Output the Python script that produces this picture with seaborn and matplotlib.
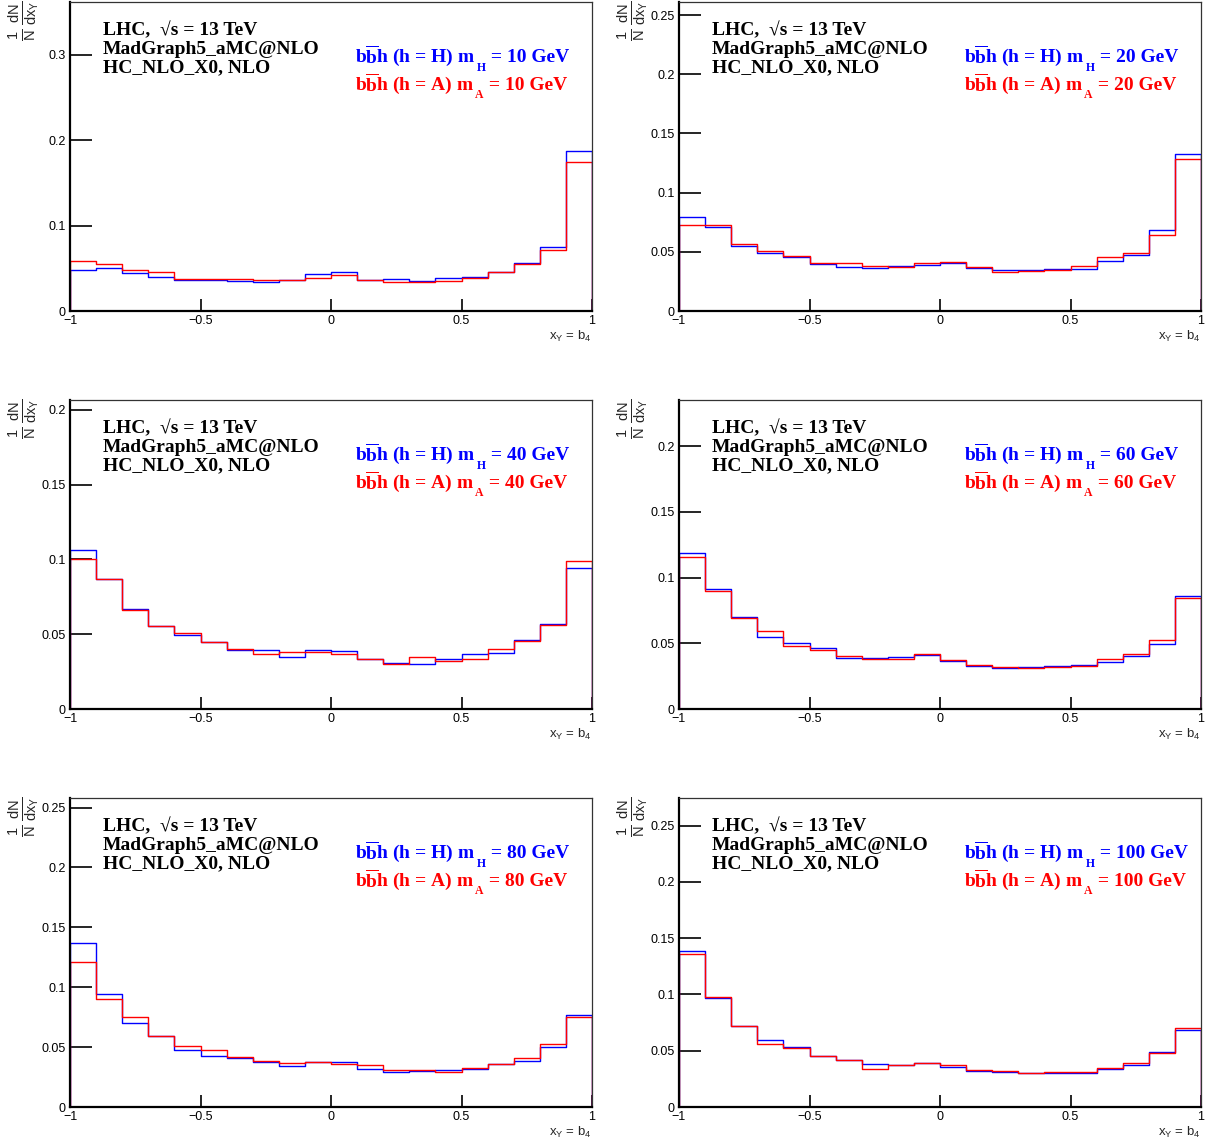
import numpy as np
import pandas as pd
import matplotlib
matplotlib.use("Agg")
import matplotlib.pyplot as plt
import matplotlib.transforms as mtransforms
import seaborn as sns
from matplotlib.ticker import FuncFormatter, MultipleLocator

# ---------------- data ----------------
bin_edges = [round(-1.0 + 0.1 * k, 3) for k in range(21)]
bin_centers = [round(-0.95 + 0.1 * k, 3) for k in range(20)]

masses = [10, 20, 40, 60, 80, 100]

H_m10 = [0.0484, 0.0500, 0.0445, 0.0400, 0.0367, 0.0360, 0.0348, 0.0340, 0.0360, 0.0430,
         0.0457, 0.0360, 0.0370, 0.0350, 0.0390, 0.0400, 0.0460, 0.0566, 0.0750, 0.1875]
A_m10 = [0.0586, 0.0555, 0.0477, 0.0457, 0.0379, 0.0371, 0.0371, 0.0363, 0.0367, 0.0390,
         0.0426, 0.0367, 0.0344, 0.0340, 0.0355, 0.0387, 0.0457, 0.0555, 0.0719, 0.1746]

H_m20 = [0.0793, 0.0709, 0.0551, 0.0490, 0.0459, 0.0400, 0.0371, 0.0366, 0.0377, 0.0391,
         0.0405, 0.0363, 0.0349, 0.0346, 0.0355, 0.0355, 0.0419, 0.0476, 0.0681, 0.1322]
A_m20 = [0.0723, 0.0723, 0.0566, 0.0506, 0.0464, 0.0402, 0.0402, 0.0383, 0.0369, 0.0408,
         0.0411, 0.0371, 0.0326, 0.0338, 0.0343, 0.0377, 0.0453, 0.0490, 0.0642, 0.1280]

H_m40 = [0.1060, 0.0866, 0.0670, 0.0552, 0.0497, 0.0450, 0.0392, 0.0392, 0.0345, 0.0392,
         0.0388, 0.0334, 0.0307, 0.0301, 0.0336, 0.0365, 0.0374, 0.0459, 0.0570, 0.0942]
A_m40 = [0.1000, 0.0866, 0.0659, 0.0552, 0.0508, 0.0450, 0.0403, 0.0365, 0.0379, 0.0379,
         0.0370, 0.0334, 0.0301, 0.0347, 0.0321, 0.0336, 0.0399, 0.0457, 0.0563, 0.0989]

H_m60 = [0.1190, 0.0912, 0.0702, 0.0545, 0.0502, 0.0464, 0.0390, 0.0388, 0.0395, 0.0411,
         0.0367, 0.0324, 0.0309, 0.0319, 0.0324, 0.0334, 0.0360, 0.0403, 0.0497, 0.0859]
A_m60 = [0.1156, 0.0900, 0.0694, 0.0590, 0.0482, 0.0449, 0.0400, 0.0378, 0.0383, 0.0418,
         0.0370, 0.0334, 0.0322, 0.0312, 0.0317, 0.0329, 0.0383, 0.0416, 0.0527, 0.0844]

H_m80 = [0.1370, 0.0946, 0.0698, 0.0594, 0.0480, 0.0430, 0.0407, 0.0379, 0.0346, 0.0374,
         0.0377, 0.0321, 0.0296, 0.0304, 0.0307, 0.0321, 0.0360, 0.0388, 0.0497, 0.0770]
A_m80 = [0.1210, 0.0904, 0.0753, 0.0592, 0.0511, 0.0477, 0.0419, 0.0382, 0.0368, 0.0377,
         0.0360, 0.0349, 0.0312, 0.0310, 0.0290, 0.0324, 0.0357, 0.0407, 0.0527, 0.0748]

H_m100 = [0.1387, 0.0968, 0.0724, 0.0597, 0.0534, 0.0451, 0.0416, 0.0386, 0.0371, 0.0392,
          0.0353, 0.0321, 0.0312, 0.0303, 0.0303, 0.0306, 0.0335, 0.0371, 0.0490, 0.0680]
A_m100 = [0.1357, 0.0980, 0.0716, 0.0561, 0.0520, 0.0454, 0.0416, 0.0341, 0.0377, 0.0395,
          0.0377, 0.0333, 0.0324, 0.0303, 0.0312, 0.0315, 0.0344, 0.0392, 0.0478, 0.0698]

H_series = [H_m10, H_m20, H_m40, H_m60, H_m80, H_m100]
A_series = [A_m10, A_m20, A_m40, A_m60, A_m80, A_m100]

y_max = [0.362, 0.261, 0.2065, 0.235, 0.258, 0.2746]
y_step = [0.1, 0.05, 0.05, 0.05, 0.05, 0.05]
x_ticks = [-1, -0.5, 0, 0.5, 1]

# ---------------- style ----------------
sns.set_style("ticks")
plt.rcParams["font.family"] = ["Liberation Sans", "DejaVu Sans"]
plt.rcParams["mathtext.fontset"] = "custom"
plt.rcParams["mathtext.rm"] = "Liberation Sans"
plt.rcParams["mathtext.it"] = "Liberation Sans"
plt.rcParams["mathtext.bf"] = "Liberation Serif:bold"
plt.rcParams["mathtext.default"] = "rm"

W, H = 1214, 1142
fig = plt.figure(figsize=(W / 100, H / 100), dpi=100)
renderer = fig.canvas.get_renderer()
ident = mtransforms.IdentityTransform()

col_left = [70, 679]
row_top = [2, 400, 798]
ax_w, ax_h = 522, 309

serif = ["Liberation Serif", "DejaVu Serif"]
blue, red = "#0000ff", "#ff0000"


def fmt(v, pos):
    s = "%g" % v
    return s.replace("-", "\u2212")


def legend_line(ax, x_px, base_px, head, sub, tail, color):
    """Draw 'head' + lowered subscript 'sub' + 'tail' starting at display px."""
    t1 = ax.text(x_px, base_px, head, transform=ident, ha="left", va="baseline",
                 fontsize=14, fontweight="bold", family=serif, color=color)
    bb = t1.get_window_extent(renderer)
    t2 = ax.text(bb.x1 + 1.5, base_px - 9, sub, transform=ident, ha="left",
                 va="baseline", fontsize=8.5, fontweight="bold", family=serif,
                 color=color)
    bb2 = t2.get_window_extent(renderer)
    ax.text(bb2.x1, base_px, tail, transform=ident, ha="left", va="baseline",
            fontsize=14, fontweight="bold", family=serif, color=color)


for i, m in enumerate(masses):
    r, c = divmod(i, 2)
    left = col_left[c] / W
    bottom = 1 - (row_top[r] + ax_h) / H
    ax = fig.add_axes([left, bottom, ax_w / W, ax_h / H])

    dfH = pd.DataFrame({"x": bin_centers, "w": H_series[i]})
    dfA = pd.DataFrame({"x": bin_centers, "w": A_series[i]})
    sns.histplot(data=dfH, x="x", weights="w", bins=bin_edges,
                 element="step", fill=False, color=blue, linewidth=1.0, ax=ax)
    sns.histplot(data=dfA, x="x", weights="w", bins=bin_edges,
                 element="step", fill=False, color=red, linewidth=1.0, ax=ax)
    # closing edges of the histogram outlines (down to zero at the range ends)
    for ser, col in [(H_series[i], blue), (A_series[i], red)]:
        ax.vlines([bin_edges[0], bin_edges[-1]], 0, [ser[0], ser[-1]],
                  colors=col, linewidth=1.0)

    ax.set_xlim(-1, 1)
    ax.set_ylim(0, y_max[i])
    ax.set_xticks(x_ticks)
    ax.yaxis.set_major_locator(MultipleLocator(y_step[i]))
    ax.xaxis.set_major_formatter(FuncFormatter(fmt))
    ax.yaxis.set_major_formatter(FuncFormatter(fmt))
    ax.tick_params(axis="y", direction="in", length=16, width=1.2, pad=3,
                   labelsize=9, colors="black")
    ax.tick_params(axis="x", direction="in", length=9, width=1.2, pad=3,
                   labelsize=9, colors="black")
    ax.set_xlabel("")
    ax.set_ylabel("")
    for s in ["left", "bottom"]:
        ax.spines[s].set_linewidth(1.6)
        ax.spines[s].set_color("black")
    for s in ["top", "right"]:
        ax.spines[s].set_linewidth(0.9)
        ax.spines[s].set_color("#333333")

    # axis titles
    ax.text(-46 / ax_w, 1.005, r"$\frac{1}{N}\,\frac{dN}{dx_{Y}}$", transform=ax.transAxes,
            rotation=90, ha="center", va="top", fontsize=15)
    ax.text(1.0, -29 / ax_h, r"$x_{Y}$ = b$_{4}$", transform=ax.transAxes,
            ha="right", va="baseline", fontsize=9.5)

    # header text
    tx = 33 / ax_w
    lines = ["LHC,  \u221as = 13 TeV", "MadGraph5_aMC@NLO", "HC_NLO_X0, NLO"]
    for k, t in enumerate(lines):
        ax.text(tx, 1 - (33 + 18.5 * k) / ax_h, t, transform=ax.transAxes,
                ha="left", va="baseline", fontsize=14, fontweight="bold",
                family=serif, color="black")

    # legend-like labels (display pixel coordinates, origin bottom-left)
    x_px = col_left[c] + 285
    top_disp = H - row_top[r]
    legend_line(ax, x_px, top_disp - 60, r"b$\mathbf{\overline{b}}$h (h = H) m", "H",
                " = %d GeV" % m, blue)
    legend_line(ax, x_px, top_disp - 87.5, r"b$\mathbf{\overline{b}}$h (h = A) m", "A",
                " = %d GeV" % m, red)

fig.savefig("out.png", dpi=100)
